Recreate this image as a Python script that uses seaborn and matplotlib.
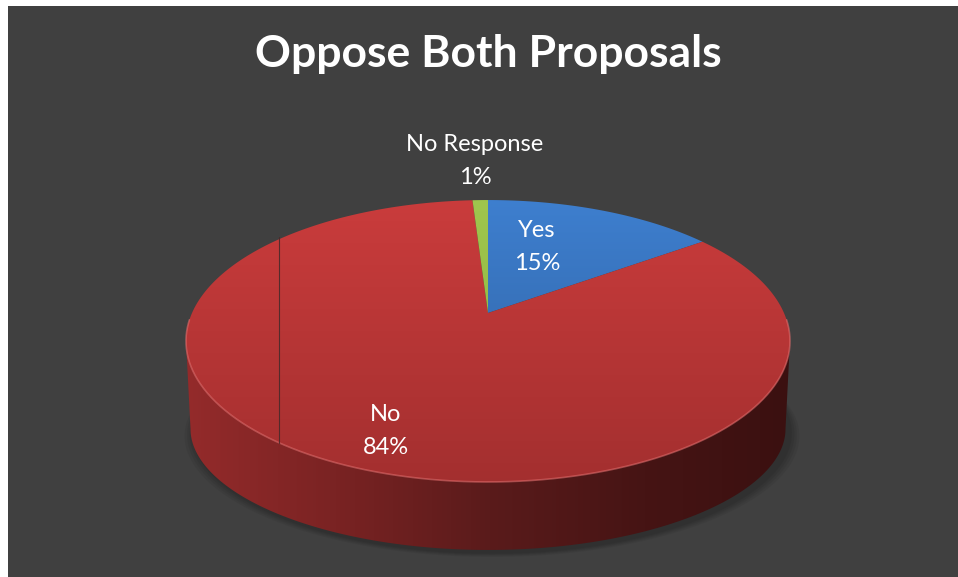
import numpy as np
import matplotlib
matplotlib.use("Agg")
import matplotlib.pyplot as plt
import seaborn as sns
from matplotlib.patches import Polygon
from matplotlib.colors import to_rgb

# Survey result: "Oppose Both Proposals"
categories = ["Yes", "No", "No Response"]
shares = [15, 84, 1]
pct_labels = ["15%", "84%", "1%"]
title = "Oppose Both Proposals"

# (far colour, near colour) for the top face of each slice
slice_colors = [("#3E7FCF", "#2D5E9C"), ("#CA3C3C", "#A32F2F"), ("#A0C64E", "#88AF3B")]
# side wall, left to right
side_colors = ["#952B2B", "#7A2323", "#5A1B1B", "#461414", "#3A1010"]

sns.set_theme(style="dark")
plt.rcParams["font.family"] = ["Lato", "DejaVu Sans"]

W, H = 958, 577
fig = plt.figure(figsize=(W / 100, H / 100), dpi=100, facecolor="white")
ax = fig.add_axes([8 / W, 0, (W - 8) / W, (H - 6) / H])
ax.set_xlim(8, W)
ax.set_ylim(H, 6)
ax.set_facecolor("#404040")
ax.grid(False)
ax.set_xticks([])
ax.set_yticks([])
for s in ax.spines.values():
    s.set_visible(False)

# perspective disc: centre of the pie, half axes and foreshortening
CX, CY = 488, 313
A, B, P = 296, 135.4, 0.1986


def top_point(theta):
    u, v = np.sin(theta), np.cos(theta)
    s = 1 + P * v
    return CX + A * u / s, CY - B * v / s


def bottom_point(theta):
    u, v = np.sin(theta), np.cos(theta)
    s = 1 + P * v
    depth = 93 + 25 * v
    return CX + 0.985 * A * u / s, CY - B * v / s + depth


def gradient_fill(poly_xy, c0, c1, extent, horizontal=False, stops=None, z=2):
    patch = Polygon(poly_xy, closed=True, facecolor="none", edgecolor="none", zorder=z)
    ax.add_patch(patch)
    n = 256
    t = np.linspace(0, 1, n)
    if stops is None:
        cols = np.array([to_rgb(c0), to_rgb(c1)])
        grad = cols[0][None, :] * (1 - t[:, None]) + cols[1][None, :] * t[:, None]
    else:
        cols = np.array([to_rgb(c) for c in stops])
        pos = np.linspace(0, 1, len(stops))
        grad = np.stack([np.interp(t, pos, cols[:, k]) for k in range(3)], axis=1)
    if horizontal:
        img = grad[None, :, :]
    else:
        img = grad[:, None, :]
    x0, x1, y0, y1 = extent
    im = ax.imshow(img, extent=(x0, x1, y1, y0), origin="upper", aspect="auto",
                   interpolation="bilinear", zorder=z)
    im.set_clip_path(patch)
    return patch


# soft shadow around the pie
th_all = np.linspace(0, 2 * np.pi, 400)
for k, a in enumerate([0.05, 0.05, 0.06, 0.07]):
    grow = 10 - 2.5 * k
    bx, by = bottom_point(th_all)
    sx = CX + (bx - CX) * (1 + grow / 300) + 4
    sy = by + grow * 0.4 + 3
    ax.add_patch(Polygon(np.column_stack([sx, sy]), closed=True, facecolor="#1E1E1E",
                         edgecolor="none", alpha=a * 2, zorder=1))

# side wall (front half of the disc, which belongs to the "No" slice)
th_r = np.arccos(-P)
th_l = 2 * np.pi - np.arccos(-P)
arc = np.linspace(th_r, th_l, 300)
tx, ty = top_point(arc)
bx, by = bottom_point(arc[::-1])
side_xy = np.column_stack([np.concatenate([tx, bx]), np.concatenate([ty, by])])
gradient_fill(side_xy, None, None, (180, 800, 330, 560), horizontal=True,
              stops=side_colors, z=2)

# top faces of the slices, clockwise from 12 o'clock
fracs = np.array(shares, dtype=float) / np.sum(shares)
bounds = np.concatenate([[0], np.cumsum(fracs)]) * 2 * np.pi
for i, cat in enumerate(categories):
    th = np.linspace(bounds[i], bounds[i + 1], max(4, int(300 * fracs[i])))
    px, py = top_point(th)
    xy = np.column_stack([np.concatenate([[CX], px]), np.concatenate([[CY], py])])
    c0, c1 = slice_colors[i]
    gradient_fill(xy, c0, c1, (180, 800, 198, 486), z=3)

# light bevel along the front rim
rx, ry = top_point(np.linspace(th_r - 0.15, th_l + 0.15, 300))
ax.plot(rx, ry, color="#E87070", lw=1.2, alpha=0.55, zorder=4)

# thin seam line on the left of the top face
seam_x = 279
ax.plot([seam_x, seam_x], [237, 443], color="#4A2A2A", lw=0.8, alpha=0.9, zorder=4)

# data labels
label_pos = {"Yes": (537, 237), "No": (386, 421), "No Response": (475, 151)}
for cat, pct in zip(categories, pct_labels):
    x, y = label_pos[cat]
    ax.text(x, y, cat, color="white", fontsize=17, ha="center", va="baseline", zorder=6)
    ax.text(x, y + 33, pct, color="white", fontsize=17, ha="center", va="baseline", zorder=6)

ax.text(488, 67, title, color="white", fontsize=32, fontweight="bold",
        ha="center", va="baseline", zorder=6)

fig.savefig("out.png", dpi=100, facecolor="white")
